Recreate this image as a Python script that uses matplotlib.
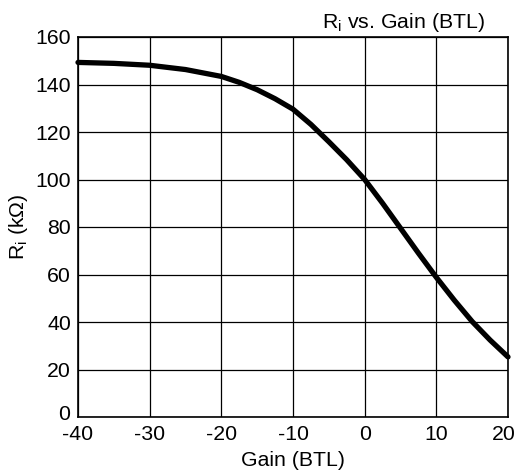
import matplotlib
matplotlib.use('Agg')
import matplotlib.pyplot as plt
from matplotlib import rcParams
from matplotlib.transforms import ScaledTranslation

params = {'font.family': ['Liberation Sans', 'DejaVu Sans'],
          'font.size': 15.3,
          'mathtext.default': 'regular',
          'axes.unicode_minus': False,
          }
rcParams.update(params)

# values
gain = [-40, -35, -30, -25, -20, -17.5, -15, -12.5, -10, -7.5, -5, -2.5,
        0, 2.5, 5, 7.5, 10, 12.5, 15, 17.5, 20]
ri = [149.3, 148.9, 148.1, 146.3, 143.4, 140.9, 137.8, 134.0, 129.6, 123.2,
      115.9, 108.3, 100, 90, 79.5, 69, 58.8, 49.2, 40.2, 32.4, 25.3]

x_ticks = [-40, -30, -20, -10, 0, 10, 20]
y_ticks = [0, 20, 40, 60, 80, 100, 120, 140, 160]

fig = plt.figure(figsize=(5.16, 4.72), dpi=100)
ax = fig.add_axes([78 / 516, 55 / 472, 430 / 516, 380 / 472])

ax.plot(gain, ri, color='black', lw=3.8, solid_capstyle='round',
        solid_joinstyle='round', clip_on=False, zorder=3)

ax.set_xlim(-40, 20)
ax.set_ylim(0, 160)
ax.set_xticks(x_ticks)
ax.set_yticks(y_ticks)
ax.grid(True, color='black', lw=0.9)
ax.tick_params(length=0)
ax.tick_params(axis='x', pad=6)
ax.tick_params(axis='y', pad=5)
for s in ax.spines.values():
    s.set_linewidth(1.2)

# last x label sits at the figure edge, nudge it in a bit
last = ax.get_xticklabels()[-1]
last.set_transform(last.get_transform() + ScaledTranslation(-4 / 100, 0, fig.dpi_scale_trans))
# y "0" sits a little above the corner, like the reference
zero = ax.get_yticklabels()[0]
zero.set_transform(zero.get_transform() + ScaledTranslation(-1 / 100, 4 / 100, fig.dpi_scale_trans))

ax.set_xlabel('Gain (BTL)', labelpad=5)
ax.set_ylabel('R$_i$ (k\u03a9)', labelpad=4)

fig.text(485 / 516, 1 - 28 / 472, 'R$_i$ vs. Gain (BTL)', ha='right', va='baseline')

fig.savefig('out.png', dpi=100)
